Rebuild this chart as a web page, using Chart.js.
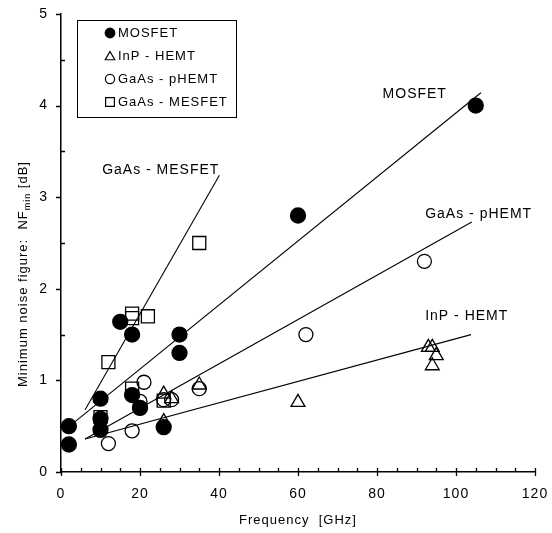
<!DOCTYPE html>
<html>
<head>
<meta charset="utf-8">
<script src="https://cdn.jsdelivr.net/npm/chart.js@4.4.1/dist/chart.umd.min.js"></script>
<style>
  html, body { margin: 0; padding: 0; background: #fff; }
  canvas { display: block; }
</style>
</head>
<body>
<canvas id="grafica-ruido" width="552" height="533"></canvas>
<script>
const fuente = "'Liberation Sans', Arial, sans-serif";

// Datos (frecuencia en GHz, NFmin en dB)
const mosfetX = [2, 2, 10, 10, 10, 15, 18, 18, 20, 26, 30, 30, 60, 105];
const mosfetY = [0.5, 0.3, 0.8, 0.58, 0.46, 1.64, 1.5, 0.84, 0.7, 0.49, 1.5, 1.3, 2.8, 4.0];

const inpX = [26, 26, 28, 35, 60, 93, 94, 95, 94];
const inpY = [0.55, 0.85, 0.8, 0.95, 0.76, 1.36, 1.36, 1.27, 1.16];

const phemtX = [12, 18, 20, 21, 26, 28, 35, 62, 92];
const phemtY = [0.31, 0.45, 0.77, 0.98, 0.79, 0.79, 0.91, 1.5, 2.3];

const mesfetX = [10, 12, 18, 18, 18, 22, 26, 35];
const mesfetY = [0.6, 1.2, 1.73, 1.68, 0.91, 1.7, 0.78, 2.5];

// rectas de tendencia (extremos)
const rectaMosfetX = [1.85, 106.3];
const rectaMosfetY = [0.49, 4.14];
const rectaInpX = [6.1, 103.8];
const rectaInpY = [0.36, 1.5];
const rectaPhemtX = [6.1, 104];
const rectaPhemtY = [0.36, 2.73];
const rectaMesfetX = [6.1, 40.1];
const rectaMesfetY = [0.68, 3.24];

const ticksX = [0, 20, 40, 60, 80, 100, 120];
const ticksY = [0, 1, 2, 3, 4, 5];

const nombresSeries = ["MOSFET", "InP - HEMT", "GaAs - pHEMT", "GaAs - MESFET"];

const aPuntos = (xs, ys) => xs.map((x, i) => ({x: x, y: ys[i]}));

const recta = (xs, ys) => ({
  type: 'line',
  data: aPuntos(xs, ys),
  showLine: true,
  borderColor: '#000',
  borderWidth: 1.1,
  pointRadius: 0,
  order: 10
});

const serie = (nombre, xs, ys, estilo, radio, relleno) => ({
  label: nombre,
  data: aPuntos(xs, ys),
  pointStyle: estilo,
  pointRadius: radio,
  pointBackgroundColor: relleno,
  pointBorderColor: '#000',
  pointBorderWidth: 1.3,
  order: 1
});

// espaciado de letras como en la figura original (solo al dibujar)
const espaciado = {
  id: 'espaciado',
  beforeDraw(chart) {
    chart.ctx.letterSpacing = '1px';
  },
  afterDraw(chart) {
    chart.ctx.letterSpacing = '0px';
  }
};

// marcas menores y mayores de los ejes
const marcasEjes = {
  id: 'marcasEjes',
  afterDraw(chart) {
    const {ctx, chartArea, scales} = chart;
    ctx.save();
    ctx.strokeStyle = '#000';
    ctx.lineWidth = 1.3;
    ctx.beginPath();
    for (let v = 0; v <= 120; v += 5) {
      const px = Math.round(scales.x.getPixelForValue(v)) + 0.5;
      const mayor = ticksX.includes(v);
      ctx.moveTo(px, chartArea.bottom - 4);
      ctx.lineTo(px, chartArea.bottom + (mayor ? 4 : 0));
    }
    for (let v = 0; v <= 5; v += 0.5) {
      const py = Math.round(scales.y.getPixelForValue(v)) + 0.5;
      const mayor = ticksY.includes(v);
      ctx.moveTo(chartArea.left - (mayor ? 5 : 0), py);
      ctx.lineTo(chartArea.left + (mayor ? 0 : 4), py);
    }
    ctx.stroke();
    ctx.restore();
  }
};

// rotulos de las rectas y titulo del eje Y con subindice
const rotulos = [
  {texto: "MOSFET", x: 97.7, y: 4.13, alinear: 'right'},
  {texto: "GaAs - MESFET", x: 40.1, y: 3.29, alinear: 'right'},
  {texto: "GaAs - pHEMT", x: 92.2, y: 2.81, alinear: 'left'},
  {texto: "InP - HEMT", x: 92.2, y: 1.7, alinear: 'left'}
];

const textos = {
  id: 'textos',
  afterDraw(chart) {
    const {ctx, scales} = chart;
    ctx.save();
    ctx.letterSpacing = '1px';
    ctx.fillStyle = '#000';
    ctx.font = `14px ${fuente}`;
    ctx.textBaseline = 'middle';
    rotulos.forEach(r => {
      ctx.textAlign = r.alinear;
      ctx.fillText(r.texto, scales.x.getPixelForValue(r.x), scales.y.getPixelForValue(r.y));
    });

    // titulo eje Y
    const parte1 = "Minimum noise figure:  NF";
    const sub = "min";
    const parte2 = " [dB]";
    ctx.font = `13px ${fuente}`;
    const w1 = ctx.measureText(parte1).width;
    const w3 = ctx.measureText(parte2).width;
    ctx.font = `9px ${fuente}`;
    const w2 = ctx.measureText(sub).width;
    const total = w1 + w2 + w3;
    ctx.translate(22, 274);
    ctx.rotate(-Math.PI / 2);
    ctx.textAlign = 'left';
    ctx.textBaseline = 'alphabetic';
    let x0 = -total / 2;
    ctx.font = `13px ${fuente}`;
    ctx.fillText(parte1, x0, 5);
    ctx.font = `9px ${fuente}`;
    ctx.fillText(sub, x0 + w1, 8);
    ctx.font = `13px ${fuente}`;
    ctx.fillText(parte2, x0 + w1 + w2, 5);
    ctx.restore();
  }
};

// leyenda dibujada dentro del area
const leyenda = {
  id: 'leyenda',
  afterDraw(chart) {
    const {ctx} = chart;
    const estilos = [
      {pointStyle: 'circle', radius: 4.8, relleno: '#000'},
      {pointStyle: 'triangle', radius: 5.5, relleno: 'rgba(0,0,0,0)'},
      {pointStyle: 'circle', radius: 4.6, relleno: 'rgba(0,0,0,0)'},
      {pointStyle: 'rect', radius: 6.2, relleno: 'rgba(0,0,0,0)'}
    ];
    ctx.save();
    ctx.letterSpacing = '1px';
    ctx.strokeStyle = '#000';
    ctx.lineWidth = 1;
    ctx.strokeRect(77.5, 20.5, 159, 97);
    ctx.font = `13px ${fuente}`;
    ctx.textBaseline = 'middle';
    ctx.textAlign = 'left';
    nombresSeries.forEach((nombre, i) => {
      const y = 33 + i * 23;
      const e = estilos[i];
      ctx.fillStyle = e.relleno;
      ctx.lineWidth = 1.2;
      Chart.helpers.drawPoint(ctx, {pointStyle: e.pointStyle, rotation: 0, radius: e.radius, borderWidth: 1.2}, 110, y + (e.pointStyle === 'triangle' ? 1 : 0));
      ctx.fillStyle = '#000';
      ctx.fillText(nombre, 118, y);
    });
    ctx.restore();
  }
};

const dibujarGrafica = () => {
  new Chart(document.getElementById('grafica-ruido'), {
    type: 'scatter',
    data: {
      datasets: [
        serie(nombresSeries[0], mosfetX, mosfetY, 'circle', 7.5, '#000'),
        serie(nombresSeries[1], inpX, inpY, 'triangle', 8, 'rgba(0,0,0,0)'),
        serie(nombresSeries[2], phemtX, phemtY, 'circle', 7, 'rgba(0,0,0,0)'),
        serie(nombresSeries[3], mesfetX, mesfetY, 'rect', 9.2, 'rgba(0,0,0,0)'),
        recta(rectaMosfetX, rectaMosfetY),
        recta(rectaInpX, rectaInpY),
        recta(rectaPhemtX, rectaPhemtY),
        recta(rectaMesfetX, rectaMesfetY)
      ]
    },
    options: {
      responsive: false,
      animation: false,
      layout: {padding: {top: 14, right: 17, left: 0, bottom: 0}},
      plugins: {
        legend: {display: false},
        tooltip: {enabled: false}
      },
      scales: {
        x: {
          type: 'linear',
          min: 0,
          max: 120,
          afterFit: (s) => { s.height = 61; s.paddingLeft = 0; s.paddingRight = 0; },
          afterBuildTicks: (s) => { s.ticks = ticksX.map(v => ({value: v})); },
          ticks: {color: '#000', font: {family: fuente, size: 14}, padding: 14, maxRotation: 0},
          grid: {display: false, drawTicks: false},
          border: {display: true, color: '#000', width: 1.5},
          title: {
            display: true,
            text: 'Frequency  [GHz]',
            color: '#000',
            font: {family: fuente, size: 13},
            padding: {top: 0, bottom: 5}
          }
        },
        y: {
          type: 'linear',
          min: 0,
          max: 5,
          afterFit: (s) => { s.width = 61; s.paddingTop = 0; s.paddingBottom = 0; },
          afterBuildTicks: (s) => { s.ticks = ticksY.map(v => ({value: v})); },
          ticks: {color: '#000', font: {family: fuente, size: 14}, padding: 13},
          grid: {display: false, drawTicks: false},
          border: {display: true, color: '#000', width: 1.5}
        }
      }
    },
    plugins: [espaciado, marcasEjes, textos, leyenda]
  });
};

dibujarGrafica();
</script>
</body>
</html>
